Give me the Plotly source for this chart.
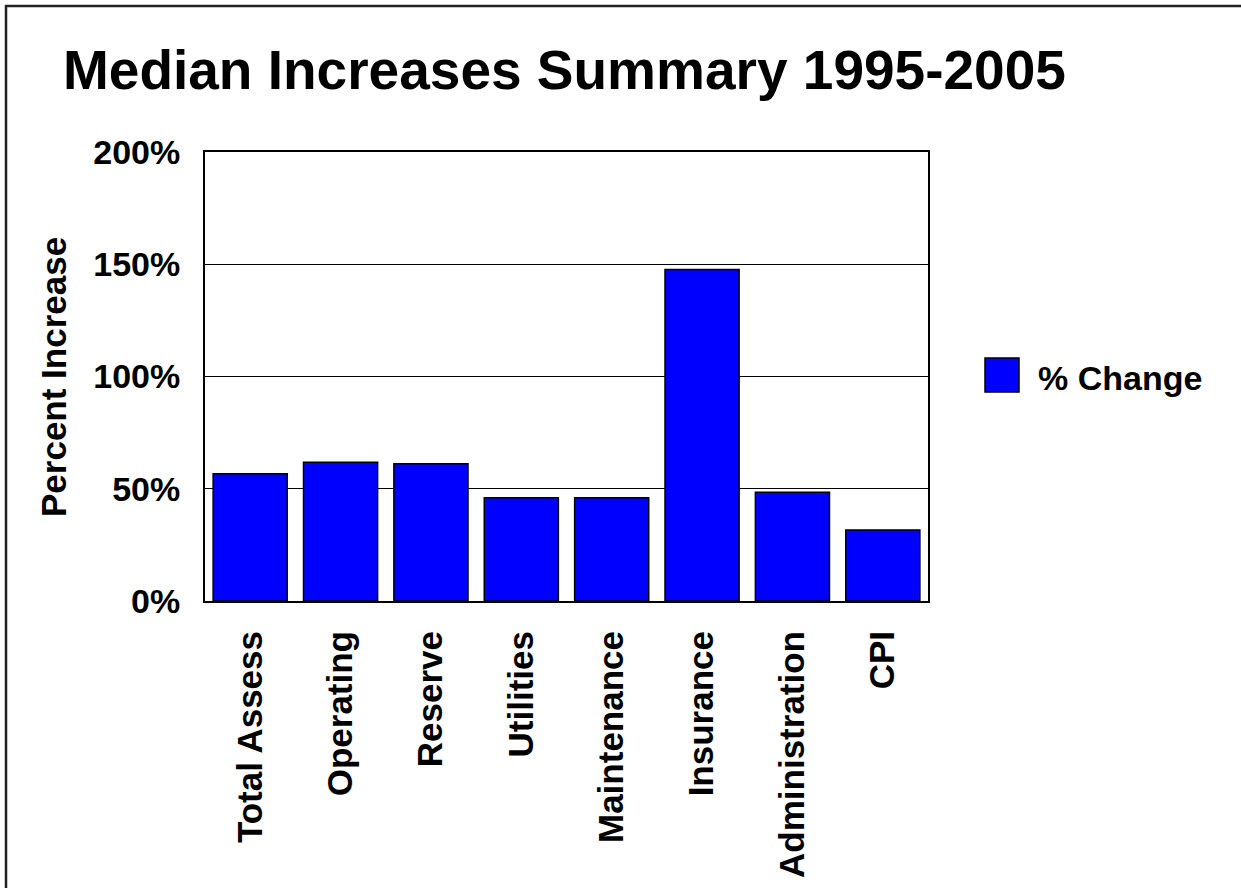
import plotly.graph_objects as go

categories = ["Total Assess", "Operating", "Reserve", "Utilities",
              "Maintenance", "Insurance", "Administration", "CPI"]
pct_change = [56.7, 61.8, 61.1, 46.0, 46.0, 147.7, 48.4, 31.6]
series_name = "% Change"
y_ticks = [0, 50, 100, 150, 200]
y_tick_labels = ["0%", "50%", "100%", "150%", "200%"]
title_text = "Median Increases Summary 1995-2005"
y_title = "Percent Increase"

W, H = 1241, 888
L, R, T, B = 205, 928, 152, 601
pw, ph = R - L, B - T

def px(x):
    return (x - L) / pw

def py(y):
    return (B - y) / ph

FONT = "Liberation Sans, Arial, sans-serif"
BLUE = "#0000FF"

fig = go.Figure()
fig.add_trace(go.Bar(
    x=categories, y=pct_change, name=series_name,
    marker=dict(color=BLUE, line=dict(color="black", width=1.5)),
    showlegend=False,
))

fig.update_layout(
    width=W, height=H,
    margin=dict(l=L, r=W - R, t=T, b=H - B, autoexpand=False),
    paper_bgcolor="white", plot_bgcolor="white",
    bargap=0.18,
    font=dict(family=FONT, size=33, color="black"),
    showlegend=False,
)
fig.update_xaxes(
    type="category", tickangle=-90,
    tickfont=dict(family=FONT, size=35, color="black", weight="bold"),
    showline=True, linecolor="black", linewidth=2, mirror=True,
    showgrid=False, ticks="", ticklabelstandoff=14,
    automargin=False,
)
fig.update_yaxes(
    range=[0, 200], tickvals=y_ticks, ticktext=y_tick_labels,
    tickfont=dict(family=FONT, size=34, color="black", weight="bold"),
    showline=True, linecolor="black", linewidth=2, mirror=True,
    showgrid=True, gridcolor="black", gridwidth=1.2,
    zeroline=False, ticks="", ticklabelstandoff=16,
    automargin=False,
)

annotations = [
    dict(text=f"<b>{title_text}</b>", xref="paper", yref="paper",
         x=px(61), y=py(70), xanchor="left", yanchor="middle",
         showarrow=False, font=dict(family=FONT, size=55, color="black")),
    dict(text=y_title, xref="paper", yref="paper",
         x=px(53), y=py(377), xanchor="center", yanchor="middle",
         textangle=-90, showarrow=False,
         font=dict(family=FONT, size=35, color="black", weight="bold")),
    dict(text=series_name, xref="paper", yref="paper",
         x=px(1036), y=py(378), xanchor="left", yanchor="middle",
         showarrow=False,
         font=dict(family=FONT, size=34, color="black", weight="bold")),
]
fig.update_layout(annotations=annotations)

shapes = [
    # legend swatch
    dict(type="rect", xref="paper", yref="paper",
         x0=px(985), x1=px(1019), y0=py(392), y1=py(358),
         fillcolor=BLUE, line=dict(color="black", width=1.5)),
    # page border
    dict(type="rect", xref="paper", yref="paper",
         x0=px(6), x1=px(W + 20), y0=py(H + 20), y1=py(6),
         fillcolor="rgba(0,0,0,0)", line=dict(color="#222", width=2.5),
         layer="above"),
]
fig.update_layout(shapes=shapes)

fig.write_html("out.html")
